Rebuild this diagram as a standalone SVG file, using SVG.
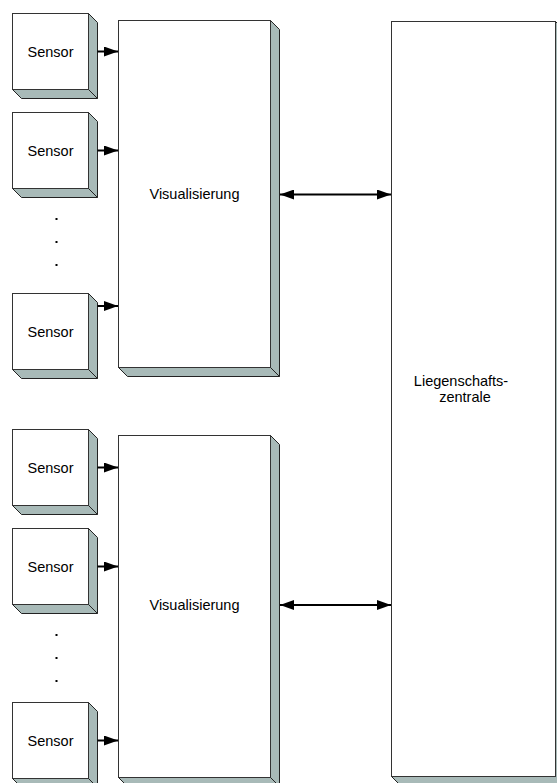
<svg xmlns="http://www.w3.org/2000/svg" width="557" height="783" viewBox="0 0 557 783">
  <style>
    .face { fill: #ffffff; stroke: #333333; stroke-width: 1; }
    .side { fill: #a8bab8; stroke: #222222; stroke-width: 1; stroke-linejoin: miter; }
    .lbl { font-family: "Liberation Sans", Arial, sans-serif; font-size: 14.5px; fill: #000000; text-anchor: middle; }
    .conn { stroke: #000000; stroke-width: 2; fill: none; }
    .dot { fill: #000000; }
  </style>
  <defs>
    <marker id="head" viewBox="0 0 14 10" refX="14" refY="5" markerWidth="14" markerHeight="10" markerUnits="userSpaceOnUse" orient="auto-start-reverse">
      <path d="M0,0 L14,5 L0,10 Z" fill="#000000"/>
    </marker>
    <!-- sensor block: 76x76 front face with 9px extrusion -->
    <g id="sensorShape">
      <path class="side" d="M76,0 L85,9 L85,85 L9,85 L0,76 L76,76 Z"/>
      <line x1="76" y1="76" x2="85" y2="85" stroke="#222222" stroke-width="1"/>
      <rect class="face" x="0" y="0" width="76" height="76"/>
    </g>
  </defs>

  <!-- upper group sensors -->
  <g id="sensor1" transform="translate(12.5,13.5)">
    <use href="#sensorShape"/>
    <text class="lbl" x="38" y="43">Sensor</text>
  </g>
  <g id="sensor2" transform="translate(12.5,112.5)">
    <use href="#sensorShape"/>
    <text class="lbl" x="38" y="43">Sensor</text>
  </g>
  <g id="dots1">
    <rect class="dot" x="55.5" y="218" width="2" height="2"/>
    <rect class="dot" x="55.5" y="241" width="2" height="2"/>
    <rect class="dot" x="55.5" y="264" width="2" height="2"/>
  </g>
  <g id="sensor3" transform="translate(12.5,293.5)">
    <use href="#sensorShape"/>
    <text class="lbl" x="38" y="43">Sensor</text>
  </g>

  <!-- lower group sensors -->
  <g id="sensor4" transform="translate(12.5,429.5)">
    <use href="#sensorShape"/>
    <text class="lbl" x="38" y="43">Sensor</text>
  </g>
  <g id="sensor5" transform="translate(12.5,528.5)">
    <use href="#sensorShape"/>
    <text class="lbl" x="38" y="43">Sensor</text>
  </g>
  <g id="dots2">
    <rect class="dot" x="55.5" y="634" width="2" height="2"/>
    <rect class="dot" x="55.5" y="657" width="2" height="2"/>
    <rect class="dot" x="55.5" y="680" width="2" height="2"/>
  </g>
  <g id="sensor6" transform="translate(12.5,702.5)">
    <use href="#sensorShape"/>
    <text class="lbl" x="38" y="43">Sensor</text>
  </g>

  <!-- visualisation blocks -->
  <g id="visual1">
    <path class="side" d="M270.5,20.5 L279.5,29.5 L279.5,376.5 L127.5,376.5 L118.5,367.5 L270.5,367.5 Z"/>
    <line x1="270.5" y1="367.5" x2="279.5" y2="376.5" stroke="#222222" stroke-width="1"/>
    <rect class="face" x="118.5" y="20.5" width="152" height="347"/>
    <text class="lbl" x="194.5" y="199">Visualisierung</text>
  </g>
  <g id="visual2">
    <path class="side" d="M270.5,435.5 L279.5,444.5 L279.5,786.5 L127.5,786.5 L118.5,777.5 L270.5,777.5 Z"/>
    <line x1="270.5" y1="777.5" x2="279.5" y2="786.5" stroke="#222222" stroke-width="1"/>
    <rect class="face" x="118.5" y="435.5" width="152" height="342"/>
    <text class="lbl" x="194.5" y="610">Visualisierung</text>
  </g>

  <!-- central property unit -->
  <g id="zentrale">
    <path class="side" d="M555.5,21.5 L564.5,30.5 L564.5,785.5 L400.5,785.5 L391.5,776.5 L555.5,776.5 Z"/>
    <rect class="face" x="391.5" y="21.5" width="164" height="755"/>
    <text class="lbl" x="461" y="386">Liegenschafts-</text>
    <text class="lbl" x="465" y="402">zentrale</text>
  </g>

  <!-- connectors -->
  <g id="connectors">
    <line class="conn" x1="97.5" y1="51.5" x2="118" y2="51.5" marker-end="url(#head)"/>
    <line class="conn" x1="97.5" y1="150.5" x2="118" y2="150.5" marker-end="url(#head)"/>
    <line class="conn" x1="97.5" y1="306" x2="118" y2="306" marker-end="url(#head)"/>
    <line class="conn" x1="97.5" y1="467.5" x2="118" y2="467.5" marker-end="url(#head)"/>
    <line class="conn" x1="97.5" y1="566.5" x2="118" y2="566.5" marker-end="url(#head)"/>
    <line class="conn" x1="97.5" y1="740.5" x2="118" y2="740.5" marker-end="url(#head)"/>
    <line class="conn" x1="280" y1="194.5" x2="391" y2="194.5" marker-start="url(#head)" marker-end="url(#head)"/>
    <line class="conn" x1="280" y1="605" x2="391" y2="605" marker-start="url(#head)" marker-end="url(#head)"/>
  </g>
</svg>
